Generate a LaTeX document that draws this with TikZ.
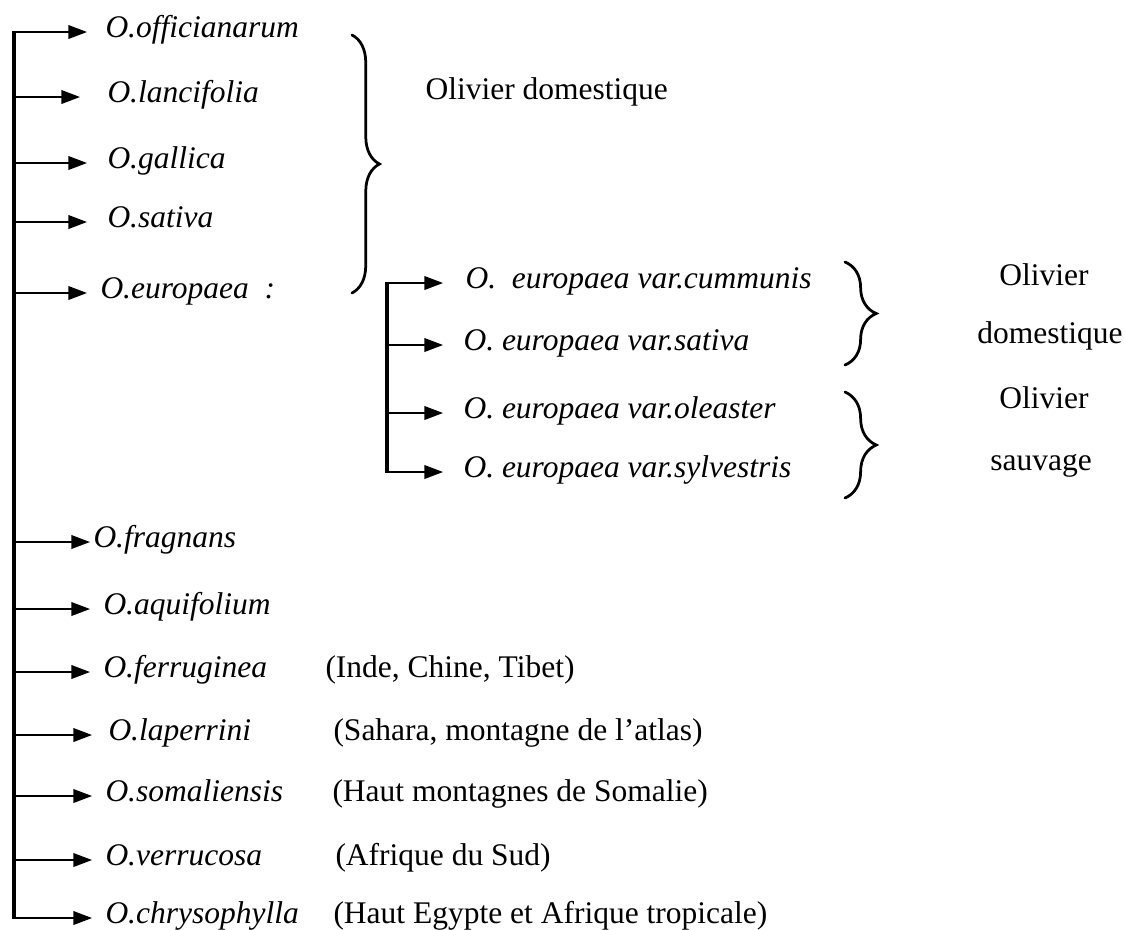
\documentclass[tikz,border=0pt]{standalone}
\usepackage{fontspec}
\setmainfont{Liberation Serif}[ItalicFont={Liberation Serif Italic}]
\usetikzlibrary{arrows.meta,decorations.pathreplacing}
\begin{document}
\begin{tikzpicture}[x=0.4pt,y=-0.4pt,
  every node/.style={inner sep=0pt,font=\fontsize{12.6}{15}\selectfont},
  sp/.style={anchor=base west,font=\fontsize{12.6}{15}\selectfont\itshape},
  note/.style={anchor=base west},
  lab/.style={anchor=base},
  br/.style={line width=0.65pt,-{Triangle[length=7.5pt,width=5.5pt]}},
  trunk/.style={line width=1.8pt},
  subtrunk/.style={line width=1.4pt},
  curly/.style={line width=1.1pt,line cap=round,decorate,decoration={brace,amplitude=#1}}]
\useasboundingbox (0,0) rectangle (1125,929);

% main list
\foreach \n/\t/\x/\y/\g in {
  n1/O.officianarum/105/32/18,
  n2/O.lancifolia/107/97/27,
  n3/O.gallica/107/163/20,
  n4/O.sativa/107/222/20,
  n5/{O.europaea\ \ :}/100/293/13,
  n6/O.fragnans/93/542/3,
  n7/O.aquifolium/103/609/13,
  n8/O.ferruginea/103/672/13,
  n9/O.laperrini/108/735/16,
  n10/O.somaliensis/105/796/13,
  n11/O.verrucosa/105/860/13,
  n12/O.chrysophylla/105/918/13}{
  \node[sp] (\n) at (\x,\y+5) {\t};
  \coordinate (j\n) at (14,\y);
  \draw[br,shorten >=\g*0.4pt] (j\n) -- (j\n -| \n.west);
}
\draw[trunk] ([yshift=0.3pt]jn1) -- ([yshift=-0.3pt]jn12);

% notes
\node[note] (a8) at (325,677) {(Inde, Chine, Tibet)};
\node[note] (a9) at (333,740) {(Sahara, montagne de l’atlas)};
\node[note] (a10) at (332,801) {(Haut montagnes de Somalie)};
\node[note] (a11) at (335,865) {(Afrique du Sud)};
\node[note] (a12) at (333,923) {(Haut Egypte et Afrique tropicale)};

% big brace
\coordinate (b1t) at (352,35);
\coordinate (b1b) at (352,293);
\draw[curly=11pt] (b1t) -- (b1b);
\node[note] (od) at (425,99) {Olivier domestique};

% sub tree
\foreach \n/\t/\x/\y/\g in {
  s1/{O.\ \ europaea var.cummunis}/465/283/22,
  s2/{O. europaea var.sativa}/463/345/20,
  s3/{O. europaea var.oleaster}/463/413/20,
  s4/{O. europaea var.sylvestris}/463/472/20}{
  \node[sp] (\n) at (\x,\y+5) {\t};
  \coordinate (k\n) at (387,\y);
  \draw[br,shorten >=\g*0.4pt] (k\n) -- (k\n -| \n.west);
}
\draw[subtrunk] ([yshift=0.3pt]ks1) -- ([yshift=-0.3pt]ks4);

% small braces
\coordinate (b2t) at (845,262);
\coordinate (b2b) at (845,365);
\draw[curly=12.5pt] (b2t) -- (b2b);
\coordinate (b3t) at (845,392);
\coordinate (b3b) at (845,498);
\draw[curly=12.5pt] (b3t) -- (b3b);

\node[lab] (l1) at (1044,285) {Olivier};
\node[lab] (l2) at (1050,343) {domestique};
\node[lab] (l3) at (1044,408) {Olivier};
\node[lab] (l4) at (1041,470) {sauvage};
\end{tikzpicture}
\end{document}
